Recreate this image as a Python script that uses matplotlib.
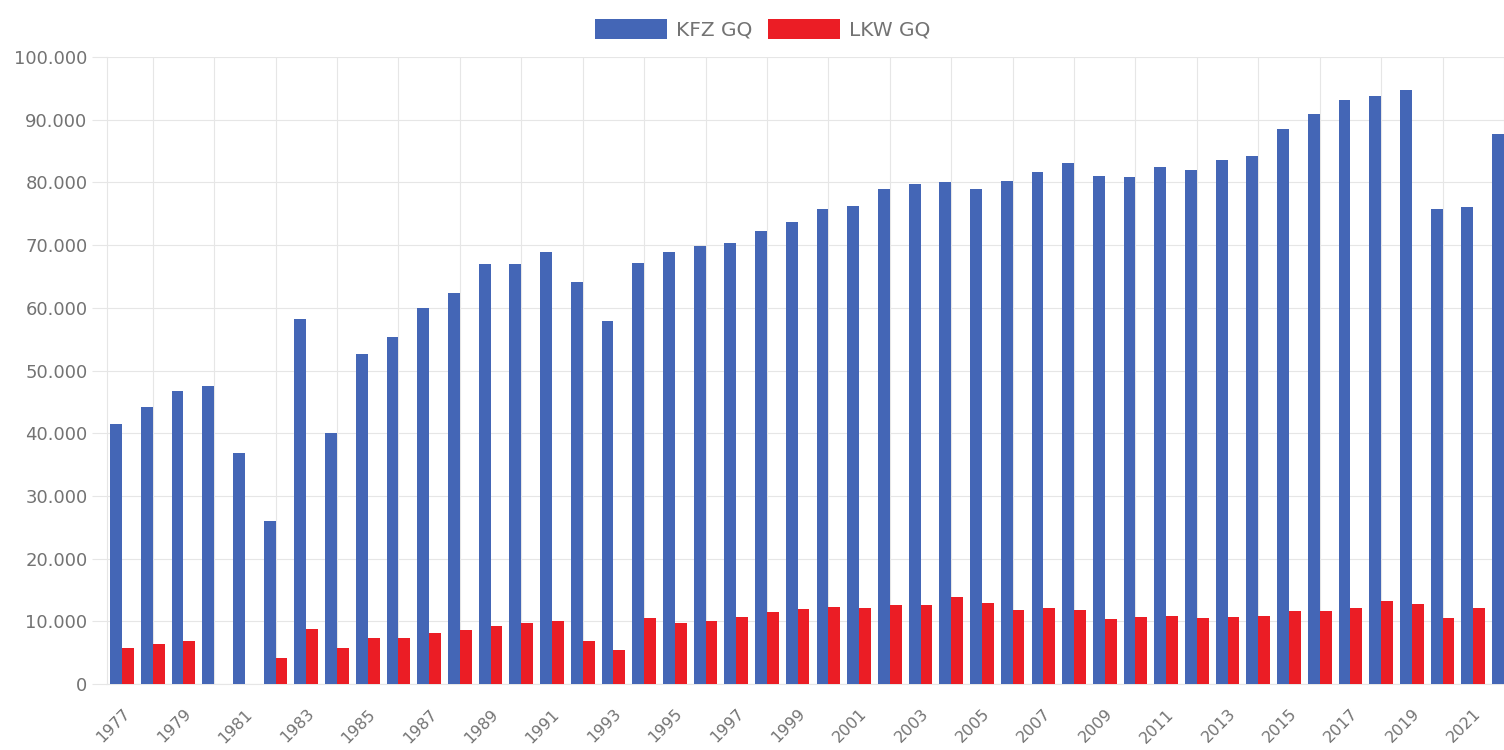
import matplotlib
matplotlib.use("Agg")
import matplotlib.pyplot as plt
from matplotlib.ticker import FuncFormatter, FixedLocator

years = list(range(1977, 2023))
kfz_gq = [41400, 44200, 46700, 47600, 36800, 26000, 58200, 40000, 52600, 55300,
          60000, 62400, 67000, 67000, 68900, 64100, 57900, 67200, 68900, 69900,
          70400, 72300, 73700, 75800, 76300, 79000, 79700, 80100, 79000, 80200,
          81600, 83100, 81100, 80800, 82500, 82000, 83500, 84200, 88500, 90900,
          93100, 93800, 94800, 75700, 76100, 87700]
lkw_gq = [5800, 6400, 6900, 0, 0, 4100, 8700, 5700, 7300, 7300,
          8100, 8600, 9200, 9700, 10100, 6800, 5400, 10500, 9700, 10100,
          10700, 11500, 12000, 12300, 12100, 12600, 12600, 13900, 12900, 11800,
          12100, 11800, 10400, 10700, 10800, 10500, 10700, 10800, 11600, 11700,
          12100, 13200, 12700, 10500, 12200, 12200]
series_names = ["KFZ GQ", "LKW GQ"]
y_ticks = [0, 10000, 20000, 30000, 40000, 50000, 60000, 70000, 80000, 90000, 100000]

BLUE = "#4466b6"
RED = "#eb1d25"
GRID = "#e6e6e6"
TEXT = "#737373"

fig = plt.figure(figsize=(15.04, 7.5), dpi=100)
ax = fig.add_axes([107/1504, 66/750, (1504-107)/1504, 627/750])

idx = list(range(len(years)))
w = 0.385
b1 = ax.bar([i - w/2 for i in idx], kfz_gq, width=w, color=BLUE, label=series_names[0], zorder=3)
b2 = ax.bar([i + w/2 for i in idx], lkw_gq, width=w, color=RED, label=series_names[1], zorder=3)

ax.set_xlim(-0.49, 44.89)
ax.set_ylim(0, 100000)

ax.yaxis.set_major_locator(FixedLocator(y_ticks))
ax.yaxis.set_major_formatter(FuncFormatter(lambda v, p: f"{int(v):,}".replace(",", ".")))
ax.tick_params(axis="y", length=11, width=0.8, color=GRID, pad=3, labelsize=13, labelcolor=TEXT)

odd = [i for i, y in enumerate(years) if y % 2 == 1]
even = [i for i, y in enumerate(years) if y % 2 == 0]
ax.set_xticks(odd)
ax.set_xticklabels([str(years[i]) for i in odd], rotation=45, ha="right", va="top",
                   rotation_mode="anchor", fontsize=11.5, color=TEXT)
ax.set_xticks(even, minor=True)
ax.tick_params(axis="x", which="major", length=0, pad=16)
ax.tick_params(axis="x", which="minor", length=0)

ax.grid(axis="y", color=GRID, linewidth=0.8, zorder=0)
ax.grid(axis="x", which="minor", color=GRID, linewidth=0.8, zorder=0)
ax.grid(axis="x", which="major", visible=False)

for s in ["top", "right"]:
    ax.spines[s].set_visible(False)
for s in ["left", "bottom"]:
    ax.spines[s].set_color(GRID)
    ax.spines[s].set_linewidth(0.8)

fig.legend(handles=[b1, b2], labels=series_names, loc="center", bbox_to_anchor=(0.507, 0.961),
           ncol=2, frameon=False, fontsize=14.5, handlelength=3.6, handleheight=1.2,
           handletextpad=0.45, columnspacing=0.75, borderpad=0, labelcolor=TEXT)

fig.savefig("out.png", dpi=100, facecolor="white")
